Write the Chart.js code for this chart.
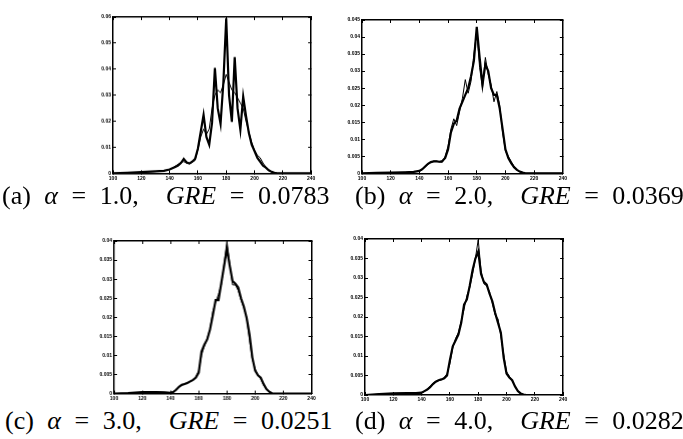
<!DOCTYPE html>
<html>
<head>
<meta charset="utf-8">
<script src="https://cdn.jsdelivr.net/npm/chart.js@4.4.1/dist/chart.umd.min.js"></script>
<style>
  html, body { margin:0; padding:0; background:#fff; }
  body { width:683px; height:439px; position:relative; overflow:hidden; }
  .panel { position:absolute; }
  .cap { position:absolute; font-family:"Liberation Serif","DejaVu Serif",serif; font-size:26px; line-height:26px; color:#000; white-space:pre; word-spacing:7px; }
  .cap i { font-style:italic; }
</style>
</head>
<body>
<div class="panel" id="pa"><canvas id="ca"></canvas></div>
<div class="panel" id="pb"><canvas id="cb"></canvas></div>
<div class="panel" id="pc"><canvas id="cc"></canvas></div>
<div class="panel" id="pd"><canvas id="cd"></canvas></div>
<div class="cap" style="left:2px;top:183px">(a) <i>α</i> = 1.0,  <i>GRE</i> = 0.0783</div>
<div class="cap" style="left:355px;top:183px">(b) <i>α</i> = 2.0,  <i>GRE</i> = 0.0369</div>
<div class="cap" style="left:5px;top:408px">(c) <i>α</i> = 3.0,  <i>GRE</i> = 0.0251</div>
<div class="cap" style="left:355px;top:408px">(d) <i>α</i> = 4.0,  <i>GRE</i> = 0.0282</div>
<script>
// ---- data ----
const xValues = [100,110,120,130,136,140,142,144,146,148,150,152,154,156,158,160,162,164,166,168,170,172,174,176,178,180,182,184,186,188,190,192,194,196,198,200,202,204,206,208,210,212,214,216,220,230,240];

const xTickValues = [100,120,140,160,180,200,220,240];
const yTicksA = [0,0.01,0.02,0.03,0.04,0.05,0.06];
const yTicksB = [0,0.005,0.01,0.015,0.02,0.025,0.03,0.035,0.04,0.045];
const yTicksC = [0,0.005,0.01,0.015,0.02,0.025,0.03,0.035,0.04];
const yTicksD = [0,0.005,0.01,0.015,0.02,0.025,0.03,0.035,0.04];

const histA = [0,0.0002,0.0005,0.0008,0.001,
  0.0015,0.002,0.0025,0.003,0.004,0.0055,0.0042,0.0038,0.0045,0.0055,0.0095,0.016,0.0225,0.014,0.011,0.0195,0.0405,0.025,0.019,0.035,0.0595,0.03,0.0198,0.0446,0.025,0.0167,0.0295,0.022,0.0155,0.011,0.0085,0.006,0.0045,0.003,0.0022,0.0012,0.0006,0.0002,0,
  0,0,0];
const estA = [0,0.0002,0.0004,0.0007,0.001,
  0.0015,0.002,0.0028,0.0035,0.0042,0.0045,0.004,0.0038,0.0042,0.005,0.009,0.014,0.017,0.015,0.017,0.025,0.03,0.032,0.031,0.034,0.038,0.035,0.032,0.031,0.029,0.027,0.025,0.02,0.016,0.012,0.009,0.007,0.006,0.004,0.0025,0.0012,0.0006,0.0002,0,
  0,0,0];

const histB = [0,0.0001,0.0002,0.0003,0.0004,
  0.0007,0.0012,0.002,0.0028,0.0033,0.0035,0.0035,0.0034,0.0036,0.0045,0.007,0.012,0.0145,0.0155,0.019,0.021,0.023,0.025,0.0285,0.033,0.043,0.034,0.026,0.032,0.03,0.025,0.023,0.023,0.019,0.013,0.007,0.0045,0.003,0.0018,0.001,0.0005,0.0002,0,0,
  0,0,0];
const estB = [0,0.0001,0.0002,0.0003,0.0004,
  0.0006,0.001,0.0018,0.0026,0.0032,0.0036,0.0036,0.0033,0.0032,0.005,0.008,0.013,0.016,0.014,0.018,0.022,0.0275,0.0235,0.027,0.035,0.0415,0.031,0.025,0.034,0.029,0.026,0.021,0.024,0.02,0.012,0.0065,0.005,0.0035,0.002,0.001,0.0004,0.0001,0,0,
  0,0,0];

const histC = [0,0.0001,0.0004,0.0004,0.0003,
  0.0002,0.0004,0.001,0.0018,0.0023,0.0025,0.0028,0.0032,0.0036,0.0042,0.0055,0.011,0.0128,0.0142,0.0168,0.0205,0.0245,0.0245,0.029,0.0335,0.038,0.0335,0.0295,0.0288,0.0278,0.025,0.0228,0.0198,0.0155,0.0095,0.006,0.0048,0.0042,0.0025,0.0012,0.0005,0.0001,0,0,
  0,0,0];
const estC = [0,0.0001,0.0003,0.0004,0.0003,
  0.0002,0.0005,0.0011,0.0017,0.0022,0.0026,0.0029,0.0031,0.0035,0.0045,0.006,0.01,0.0125,0.0145,0.017,0.0215,0.024,0.026,0.0285,0.034,0.0399,0.034,0.0285,0.0285,0.027,0.0245,0.0225,0.02,0.014,0.009,0.0065,0.005,0.0038,0.0022,0.0011,0.0004,0,0,0,
  0,0,0];

const histD = [0,0.0002,0.0004,0.0005,0.0005,
  0.0006,0.001,0.0014,0.002,0.0028,0.0034,0.0038,0.004,0.0043,0.005,0.009,0.0125,0.014,0.0155,0.0185,0.0232,0.0245,0.028,0.032,0.035,0.0368,0.031,0.029,0.0283,0.026,0.024,0.021,0.0185,0.016,0.0095,0.0055,0.0045,0.0038,0.0022,0.001,0.0004,0.0001,0,0,
  0,0,0];
const estD = [0,0.0002,0.0004,0.0005,0.0005,
  0.0005,0.0009,0.0015,0.0022,0.003,0.0035,0.0037,0.0039,0.0045,0.0055,0.008,0.012,0.0145,0.016,0.019,0.022,0.0255,0.0275,0.031,0.035,0.0398,0.032,0.0285,0.028,0.0265,0.0235,0.0205,0.0195,0.015,0.0105,0.006,0.0048,0.0036,0.0022,0.0011,0.0004,0,0,0,
  0,0,0];

// ---- layout (plot-area boxes in page pixels) ----
const AXW = 24, AXH = 12, PADT = 4, PADR = 4;
const panels = [
  {div:'pa', cv:'ca', box:[112.7,13.3,316,172.7], hist:histA, est:estA, yt:yTicksA},
  {div:'pb', cv:'cb', box:[361.7,16,567.7,173.3], hist:histB, est:estB, yt:yTicksB},
  {div:'pc', cv:'cc', box:[114.3,236.7,316,393.3], hist:histC, est:estC, yt:yTicksC},
  {div:'pd', cv:'cd', box:[365,235,568.3,395], hist:histD, est:estD, yt:yTicksD}
];

function pts(ys){ return xValues.map((x,i)=>({x:x, y:ys[i]})); }
function fmtY(v){ return v===0 ? '0' : String(+v.toFixed(3)); }

const tickFont = {family:'"Liberation Sans", Arial, sans-serif', size:5, weight:'bold'};

panels.forEach(p=>{
  const [L,T,R,B] = p.box;
  const w = (R-L)+AXW+PADR, h = (B-T)+PADT+AXH;
  const d = document.getElementById(p.div);
  d.style.left = (L-AXW)+'px'; d.style.top = (T-PADT)+'px';
  d.style.width = w+'px'; d.style.height = h+'px';
  const ymax = p.yt[p.yt.length-1];
  const setX = s=>{ s.ticks = xTickValues.map(v=>({value:v})); };
  const setY = s=>{ s.ticks = p.yt.map(v=>({value:v})); };
  const grid = {drawOnChartArea:false, drawTicks:true, tickLength:-3, color:'#000', lineWidth:1};
  const border = {display:true, color:'#000', width:1.5};
  new Chart(document.getElementById(p.cv), {
    type:'line',
    data:{datasets:[
      {data:pts(p.hist), borderColor:'#000', borderWidth:2.2, pointRadius:0, tension:0, fill:false},
      {data:pts(p.est), borderColor:'#000', borderWidth:1, pointRadius:0, tension:0, fill:false}
    ]},
    options:{
      responsive:true, maintainAspectRatio:false, animation:false,
      layout:{padding:{top:PADT, right:PADR, left:0, bottom:0}},
      plugins:{legend:{display:false}, tooltip:{enabled:false}},
      scales:{
        x:{type:'linear', position:'bottom', min:100, max:240, afterBuildTicks:setX,
           afterFit:s=>{s.height=AXH;}, grid:grid, border:border,
           ticks:{color:'#000', font:tickFont, padding:5, maxRotation:0, autoSkip:false, callback:v=>String(v)}},
        x2:{type:'linear', position:'top', min:100, max:240, afterBuildTicks:setX,
           afterFit:s=>{s.height=0;}, grid:grid, border:border, ticks:{display:false}},
        y:{type:'linear', position:'left', min:0, max:ymax, afterBuildTicks:setY,
           afterFit:s=>{s.width=AXW;}, grid:grid, border:border,
           ticks:{color:'#000', font:tickFont, padding:5, autoSkip:false, callback:v=>fmtY(v)}},
        y2:{type:'linear', position:'right', min:0, max:ymax, afterBuildTicks:setY,
           afterFit:s=>{s.width=0;}, grid:grid, border:border, ticks:{display:false}}
      }
    }
  });
});
</script>
</body>
</html>
